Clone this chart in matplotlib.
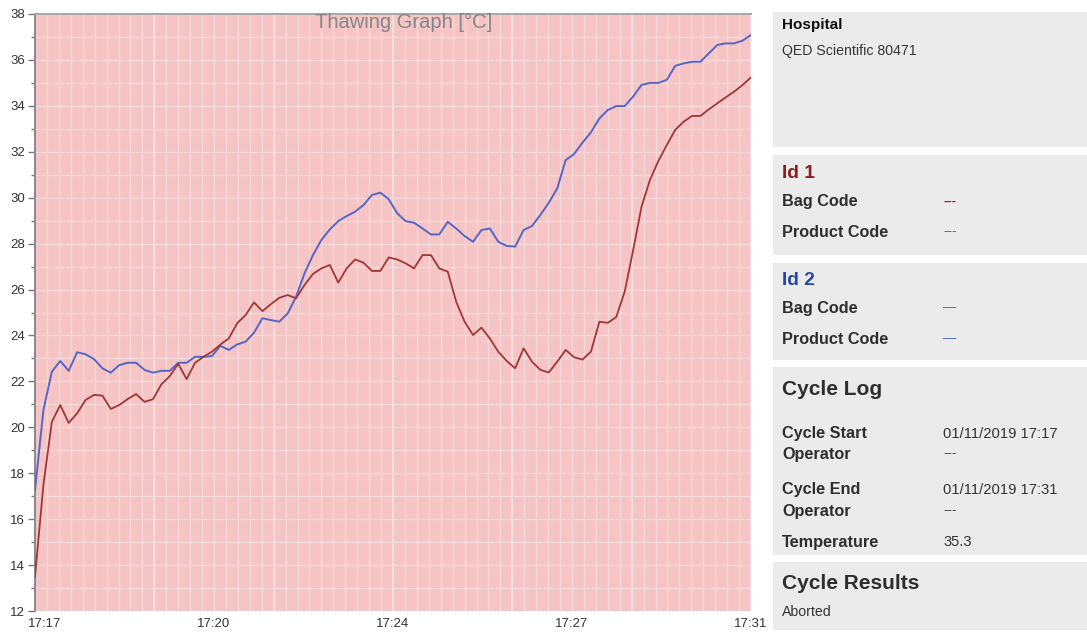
import numpy as np
import matplotlib
matplotlib.use("Agg")
import matplotlib.pyplot as plt
from matplotlib.patches import Rectangle
from matplotlib.ticker import MultipleLocator, FixedLocator
import matplotlib.transforms as mtransforms

plt.rcParams['font.family'] = ['Liberation Sans', 'DejaVu Sans']

# ---------------- data ----------------
n_samples = 86
minutes = np.linspace(0, 14, n_samples)   # 17:17 -> 17:31
tick_minutes = [0, 3.5, 7, 10.5, 14]
tick_labels = ["17:17", "17:20", "17:24", "17:27", "17:31"]

temp_id2 = [17.27, 20.75, 22.42, 22.89, 22.46, 23.27, 23.18, 22.97, 22.57, 22.38,
            22.71, 22.81, 22.81, 22.50, 22.38, 22.46, 22.46, 22.81, 22.81, 23.07,
            23.07, 23.10, 23.55, 23.37, 23.61, 23.73, 24.12, 24.75, 24.67, 24.60,
            24.96, 25.69, 26.71, 27.50, 28.16, 28.62, 28.98, 29.20, 29.39, 29.68,
            30.12, 30.22, 29.93, 29.32, 28.98, 28.91, 28.66, 28.40, 28.40, 28.95,
            28.66, 28.33, 28.08, 28.59, 28.66, 28.08, 27.90, 27.87, 28.59, 28.77,
            29.25, 29.78, 30.41, 31.64, 31.90, 32.40, 32.85, 33.45, 33.82, 33.99,
            33.99, 34.40, 34.91, 35.00, 35.00, 35.13, 35.74, 35.85, 35.92, 35.92,
            36.29, 36.65, 36.72, 36.72, 36.84, 37.09]

temp_id1 = [13.50, 17.50, 20.24, 20.97, 20.19, 20.61, 21.19, 21.41, 21.38, 20.80,
            20.97, 21.23, 21.45, 21.11, 21.22, 21.87, 22.23, 22.76, 22.10, 22.81,
            23.07, 23.29, 23.60, 23.87, 24.53, 24.89, 25.44, 25.06, 25.36, 25.64,
            25.76, 25.62, 26.20, 26.68, 26.92, 27.07, 26.30, 26.92, 27.31, 27.17,
            26.81, 26.81, 27.40, 27.31, 27.14, 26.92, 27.50, 27.50, 26.92, 26.78,
            25.47, 24.60, 24.02, 24.34, 23.87, 23.29, 22.89, 22.57, 23.44, 22.86,
            22.50, 22.39, 22.86, 23.37, 23.05, 22.95, 23.30, 24.60, 24.55, 24.80,
            25.90, 27.70, 29.60, 30.77, 31.60, 32.29, 32.95, 33.31, 33.56, 33.56,
            33.85, 34.11, 34.37, 34.62, 34.91, 35.24]

# ---------------- figure ----------------
W, H = 1087, 632
fig = plt.figure(figsize=(W / 100, H / 100), dpi=100)
fig.patch.set_facecolor('white')

# right-hand info panel drawn in pixel coordinates
pan = fig.add_axes([0, 0, 1, 1], zorder=0)
pan.set_xlim(0, W)
pan.set_ylim(H, 0)
pan.axis('off')

ax = fig.add_axes([35 / W, (H - 611) / H, 716 / W, 597 / H], zorder=2)
ax.set_facecolor('#F6C4C4')
ax.set_xlim(0, 14)
ax.set_ylim(12, 38)

# grid
minor_col = '#F4DADA'
major_col = '#F2E2E2'
for i in range(61):
    ax.axvline(i * 14 / 60, color=minor_col, lw=1.0, zorder=0.5)
for i in range(7):
    ax.axvline(i * 14 / 6, color=major_col, lw=1.2, zorder=0.6)
for v in range(12, 39):
    ax.axhline(v, color=minor_col, lw=1.0, zorder=0.5)

ax.plot(minutes, temp_id2, color='#5565C8', lw=1.4, zorder=3)
ax.plot(minutes, temp_id1, color='#A03636', lw=1.3, zorder=3)

# axes styling
for s in ['right', 'bottom']:
    ax.spines[s].set_visible(False)
ax.spines['left'].set_color('#8C8C8C')
ax.spines['left'].set_linewidth(1.5)
ax.spines['top'].set_color('#A8A8A8')
ax.spines['top'].set_linewidth(1.5)

ax.yaxis.set_major_locator(MultipleLocator(2))
ax.yaxis.set_minor_locator(MultipleLocator(1))
ax.tick_params(axis='y', which='major', length=5, width=1, color='#777777',
               labelsize=9.5, labelcolor='#333333', pad=2)
ax.tick_params(axis='y', which='minor', length=3, width=1, color='#777777')

ax.xaxis.set_major_locator(FixedLocator(tick_minutes))
ax.set_xticklabels(tick_labels)
ax.tick_params(axis='x', which='major', length=0, labelsize=9.5,
               labelcolor='#333333', pad=5)
first = ax.get_xticklabels()[0]
first.set_transform(first.get_transform() +
                    mtransforms.ScaledTranslation(10 / 100, 0, fig.dpi_scale_trans))

ax.text(0.515, 0.985, "Thawing Graph [°C]", transform=ax.transAxes,
        ha='center', va='center', fontsize=14.5, color='#858585', zorder=4)

# ---------------- panel boxes ----------------
box_col = '#EBEBEB'
boxes = [(12, 147), (155, 255), (263, 360), (367, 555), (562, 630)]
for top, bot in boxes:
    pan.add_patch(Rectangle((773, top), W - 773, bot - top,
                            facecolor=box_col, edgecolor='none'))

lx, vx = 782, 943
lab = '#2E2E2E'
LS = 11.7
def t(x, y, s, **kw):
    pan.text(x, y + 1.5, s, va='center', ha='left', **kw)

t(lx, 23, "Hospital", fontsize=11, fontweight='bold', color='#111111')
t(lx, 49, "QED Scientific 80471", fontsize=10.2, color='#333333')

t(lx, 172, "Id 1", fontsize=13.8, fontweight='bold', color='#8E1C1C')
t(lx, 200, "Bag Code", fontsize=LS, fontweight='bold', color=lab)
t(vx, 200, "---", fontsize=9.5, fontweight='bold', color='#A02020')
t(lx, 231, "Product Code", fontsize=LS, fontweight='bold', color=lab)
t(vx, 231, "---", fontsize=9.5, color='#A03030')

t(lx, 279, "Id 2", fontsize=13.8, fontweight='bold', color='#2548A8')
t(lx, 307, "Bag Code", fontsize=LS, fontweight='bold', color=lab)
t(vx, 307, "—", fontsize=9.5, color='#4060C0')
t(lx, 338, "Product Code", fontsize=LS, fontweight='bold', color=lab)
t(vx, 338, "—", fontsize=9.5, color='#4060C0')

t(lx, 388, "Cycle Log", fontsize=15, fontweight='bold', color=lab)
t(lx, 432, "Cycle Start", fontsize=LS, fontweight='bold', color=lab)
t(vx, 432, "01/11/2019 17:17", fontsize=10.6, color='#333333')
t(lx, 453, "Operator", fontsize=LS, fontweight='bold', color=lab)
t(vx, 453, "---", fontsize=9.5, color='#333333')
t(lx, 488, "Cycle End", fontsize=LS, fontweight='bold', color=lab)
t(vx, 488, "01/11/2019 17:31", fontsize=10.6, color='#333333')
t(lx, 510, "Operator", fontsize=LS, fontweight='bold', color=lab)
t(vx, 510, "---", fontsize=9.5, color='#333333')
t(lx, 541, "Temperature", fontsize=LS, fontweight='bold', color=lab)
t(vx, 541, "35.3", fontsize=10.6, color='#333333')

t(lx, 582, "Cycle Results", fontsize=15, fontweight='bold', color=lab)
t(lx, 611, "Aborted", fontsize=10.2, color='#333333')

fig.savefig("out.png", dpi=100, facecolor='white')
